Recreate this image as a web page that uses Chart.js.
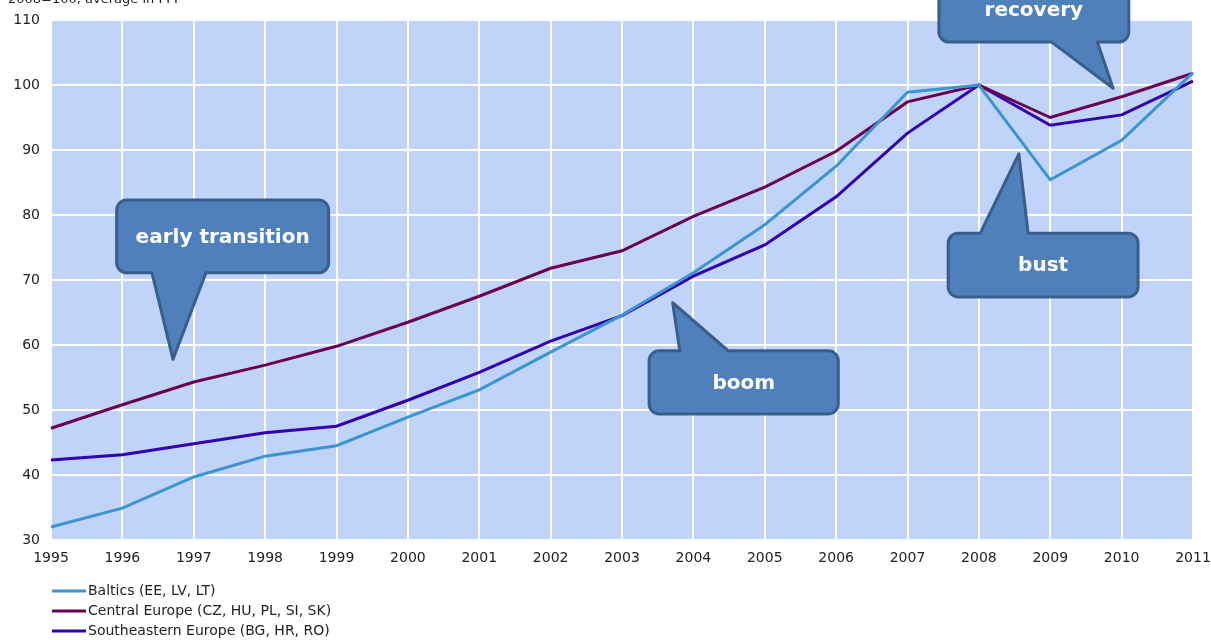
<!DOCTYPE html>
<html>
<head>
<meta charset="utf-8">
<script src="https://cdn.jsdelivr.net/npm/chart.js@4/dist/chart.umd.min.js"></script>
<style>
  html, body { margin: 0; padding: 0; background: #fff; }
  #wrap { width: 1211px; height: 640px; position: relative; }
</style>
</head>
<body>
<div id="wrap"><canvas id="myChart" width="1211" height="640"></canvas></div>
<script>
var years = ['1995', '1996', '1997', '1998', '1999', '2000', '2001', '2002', '2003', '2004', '2005', '2006', '2007', '2008', '2009', '2010', '2011'];
var baltics = [32.0, 34.9, 39.7, 42.9, 44.5, 48.9, 53.1, 58.9, 64.6, 71.1, 78.5, 87.5, 98.9, 100, 85.4, 91.5, 101.9];
var centralEurope = [47.2, 50.8, 54.3, 56.9, 59.8, 63.5, 67.5, 71.8, 74.5, 79.8, 84.3, 89.8, 97.4, 100, 95.0, 98.2, 101.8];
var southeastEurope = [42.3, 43.1, 44.8, 46.5, 47.5, 51.5, 55.8, 60.6, 64.5, 70.6, 75.4, 82.8, 92.6, 100, 93.8, 95.4, 100.6];
var seriesNames = ['Baltics (EE, LV, LT)', 'Central Europe (CZ, HU, PL, SI, SK)', 'Southeastern Europe (BG, HR, RO)'];
var subtitle = '2008=100, average in PPP';

// callouts: box in (category index, value), tail base along one side, tip point
var callouts = [
  { text: 'early transition', box: [0.92, 82.3, 3.89, 71.1], side: 'bottom', base: [1.415, 2.17], tip: [1.71, 57.8] },
  { text: 'boom', box: [8.38, 59.1, 11.03, 49.4], side: 'top', base: [8.81, 9.49], tip: [8.71, 66.5] },
  { text: 'bust', box: [12.57, 77.2, 15.23, 67.4], side: 'top', base: [13.02, 13.69], tip: [13.56, 89.4] },
  { text: 'recovery', box: [12.44, 116.6, 15.10, 106.6], side: 'bottom', base: [14.02, 14.66], tip: [14.88, 99.5] }
];

var FONT = '"DejaVu Sans", sans-serif';

function calloutPath(ctx, x1, y1, x2, y2, side, a, b, tx, ty) {
  var r = 10;
  ctx.beginPath();
  ctx.moveTo(x1 + r, y1);
  if (side === 'top') {
    ctx.lineTo(a, y1);
    ctx.lineTo(tx, ty);
    ctx.lineTo(b, y1);
  }
  ctx.lineTo(x2 - r, y1);
  ctx.arcTo(x2, y1, x2, y1 + r, r);
  ctx.lineTo(x2, y2 - r);
  ctx.arcTo(x2, y2, x2 - r, y2, r);
  if (side === 'bottom') {
    ctx.lineTo(b, y2);
    ctx.lineTo(tx, ty);
    ctx.lineTo(a, y2);
  }
  ctx.lineTo(x1 + r, y2);
  ctx.arcTo(x1, y2, x1, y2 - r, r);
  ctx.lineTo(x1, y1 + r);
  ctx.arcTo(x1, y1, x1 + r, y1, r);
  ctx.closePath();
}

var extras = {
  id: 'extras',
  beforeDraw: function(chart) {
    var ctx = chart.ctx, area = chart.chartArea;
    ctx.save();
    ctx.fillStyle = '#c0d3f8';
    ctx.fillRect(area.left, area.top, area.right - area.left, area.bottom - area.top);
    ctx.restore();
  },
  afterDatasetsDraw: function(chart) {
    var ctx = chart.ctx;
    var xs = chart.scales.x, ys = chart.scales.y;
    ctx.save();
    callouts.forEach(function(c) {
      var x1 = xs.getPixelForValue(c.box[0]), y1 = ys.getPixelForValue(c.box[1]);
      var x2 = xs.getPixelForValue(c.box[2]), y2 = ys.getPixelForValue(c.box[3]);
      var a = xs.getPixelForValue(c.base[0]), b = xs.getPixelForValue(c.base[1]);
      var tx = xs.getPixelForValue(c.tip[0]), ty = ys.getPixelForValue(c.tip[1]);
      calloutPath(ctx, x1, y1, x2, y2, c.side, a, b, tx, ty);
      ctx.fillStyle = '#4f80bc';
      ctx.fill();
      ctx.lineWidth = 3;
      ctx.strokeStyle = '#3a5e8c';
      ctx.lineJoin = 'round';
      ctx.stroke();
      ctx.fillStyle = '#ffffff';
      ctx.font = 'bold 20px ' + FONT;
      ctx.textAlign = 'center';
      ctx.textBaseline = 'middle';
      ctx.fillText(c.text, (x1 + x2) / 2, (y1 + y2) / 2 + 1);
    });
    ctx.restore();
  },
  afterDraw: function(chart) {
    var ctx = chart.ctx;
    ctx.save();
    // subtitle, cut off at the top edge
    ctx.fillStyle = '#222';
    ctx.font = '13px ' + FONT;
    ctx.textAlign = 'left';
    ctx.textBaseline = 'alphabetic';
    ctx.fillText(subtitle, 8, 3);
    // legend
    ctx.font = '14px ' + FONT;
    ctx.textBaseline = 'middle';
    chart.data.datasets.forEach(function(ds, i) {
      var y = 591 + i * 20;
      ctx.strokeStyle = ds.borderColor;
      ctx.lineWidth = 3;
      ctx.beginPath();
      ctx.moveTo(52, y);
      ctx.lineTo(86, y);
      ctx.stroke();
      ctx.fillStyle = '#222';
      ctx.fillText(ds.label, 88, y);
    });
    ctx.restore();
  }
};

var ctx = document.getElementById('myChart').getContext('2d');
var myChart = new Chart(ctx, {
  type: 'line',
  data: {
    labels: years,
    datasets: [
      { label: seriesNames[0], data: baltics, borderColor: '#3d95d0' },
      { label: seriesNames[1], data: centralEurope, borderColor: '#6a0052' },
      { label: seriesNames[2], data: southeastEurope, borderColor: '#3300b0' }
    ]
  },
  options: {
    responsive: false,
    animation: false,
    layout: { padding: { top: 20, right: 18, bottom: 70, left: 0 } },
    elements: {
      line: { borderWidth: 3, tension: 0 },
      point: { radius: 0 }
    },
    plugins: {
      legend: { display: false },
      tooltip: { enabled: false }
    },
    scales: {
      x: {
        offset: false,
        grid: { color: '#ffffff', lineWidth: 2, drawTicks: false },
        border: { display: false },
        ticks: { color: '#222', font: { family: FONT, size: 14 }, padding: 10, maxRotation: 0, autoSkip: false },
        afterFit: function(s) { s.height = 30; s.paddingLeft = 0; s.paddingRight = 0; }
      },
      y: {
        min: 30,
        max: 110,
        grid: { color: '#ffffff', lineWidth: 2, drawTicks: false },
        border: { display: false },
        ticks: { stepSize: 10, color: '#222', font: { family: FONT, size: 14 }, padding: 11 },
        afterFit: function(s) { s.width = 51; s.paddingTop = 0; s.paddingBottom = 0; }
      }
    }
  },
  plugins: [extras]
});
</script>
</body>
</html>
